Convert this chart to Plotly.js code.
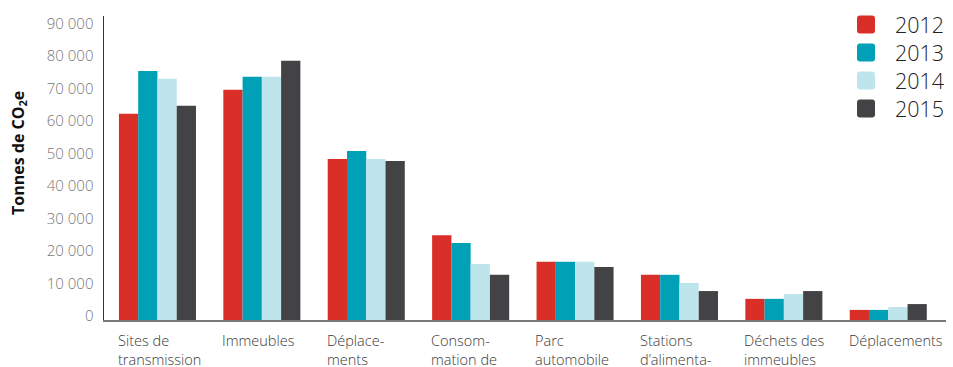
<!DOCTYPE html>
<html>
<head>
<meta charset="utf-8">
<script src="https://cdn.plot.ly/plotly-3.0.1.min.js"></script>
<style>html,body{margin:0;padding:0;background:#fff;}#chart{width:953px;height:367px;}</style>
</head>
<body>
<div id="chart"></div>
<script>
var categories = ["Sites de<br>transmission", "Immeubles", "Déplace-<br>ments", "Consom-<br>mation de", "Parc<br>automobile", "Stations<br>d’alimenta-", "Déchets des<br>immeubles", "Déplacements"];
var years = ["2012", "2013", "2014", "2015"];
var v2012 = [63400, 70800, 49500, 26100, 17900, 13900, 6500, 3100];
var v2013 = [76600, 74800, 52000, 23700, 17900, 13900, 6500, 3100];
var v2014 = [74200, 74800, 49500, 17200, 17900, 11400, 8000, 4000];
var v2015 = [65900, 79700, 48900, 13900, 16300, 8900, 8900, 4900];
var yTicks = [0, 10000, 20000, 30000, 40000, 50000, 60000, 70000, 80000, 90000];
var yTickText = ["0", "10 000", "20 000", "30 000", "40 000", "50 000", "60 000", "70 000", "80 000", "90 000"];
var colors = ["#DA2E28", "#00A0B6", "#BEE5EC", "#434345"];

var FONT = "Open Sans, sans-serif";
var series = [v2012, v2013, v2014, v2015];
var idx = categories.map(function(_, i){ return i; });
var traces = series.map(function(vals, k){
  return {type: "bar", name: years[k], x: idx, y: vals, marker: {color: colors[k], line: {width: 0}}, hoverinfo: "skip", showlegend: false};
});

// plot area geometry (pixels) used to place legend items
var L = 104, T = 16, W = 842, H = 304;
function px2x(p){ return (p - L) / W; }
function py2y(p){ return (T + H - p) / H; }

var annotations = categories.map(function(c, i){
  return {xref: "x", yref: "paper", x: i - 0.40, y: py2y(328.5), xanchor: "left", yanchor: "top",
          text: c, showarrow: false, align: "left",
          font: {family: FONT, size: 14.5, color: "#3a3a3a", weight: 300}};
});
// y axis title
annotations.push({xref: "paper", yref: "paper", x: px2x(18), y: py2y(153), xanchor: "center", yanchor: "middle",
  textangle: -90, showarrow: false, text: "Tonnes de CO<sub>2</sub>e",
  font: {family: FONT, size: 16, color: "#111", weight: 700}});

// custom legend (rounded squares + labels)
var shapes = [];
years.forEach(function(yr, k){
  var cy = 24.5 + k * 28;
  annotations.push({xref: "paper", yref: "paper", x: px2x(893), y: py2y(cy), xanchor: "left", yanchor: "middle",
    text: yr, showarrow: false, font: {family: FONT, size: 21.5, color: "#222", weight: 300}});
  shapes.push({type: "path", xref: "paper", yref: "paper", xsizemode: "pixel", ysizemode: "pixel",
    xanchor: px2x(866), yanchor: py2y(cy), fillcolor: colors[k], line: {width: 0},
    path: "M -6 -9 L 6 -9 Q 9 -9 9 -6 L 9 6 Q 9 9 6 9 L -6 9 Q -9 9 -9 6 L -9 -6 Q -9 -9 -6 -9 Z"});
});

var layout = {
  width: 953, height: 367,
  margin: {l: L, r: 953 - L - W, t: T, b: 367 - T - H},
  paper_bgcolor: "#fff", plot_bgcolor: "#fff",
  barmode: "group", bargap: 0.262, bargroupgap: 0,
  showlegend: false,
  xaxis: {type: "linear", range: [-0.512, 7.553], showgrid: false, zeroline: false,
          showticklabels: false, ticks: "", showline: true, linecolor: "#7a7a7a", linewidth: 2, fixedrange: true},
  yaxis: {range: [0, 93500], tickvals: yTicks, ticktext: yTickText, showgrid: false, zeroline: false,
          showline: true, linecolor: "#333", linewidth: 1.5, ticks: "", ticklabelstandoff: 6, ticklabelshift: -4,
          tickfont: {family: FONT, size: 15, color: "#777", weight: 300}, fixedrange: true},
  annotations: annotations,
  shapes: shapes
};

Plotly.newPlot("chart", traces, layout, {displayModeBar: false, staticPlot: true});
</script>
</body>
</html>
